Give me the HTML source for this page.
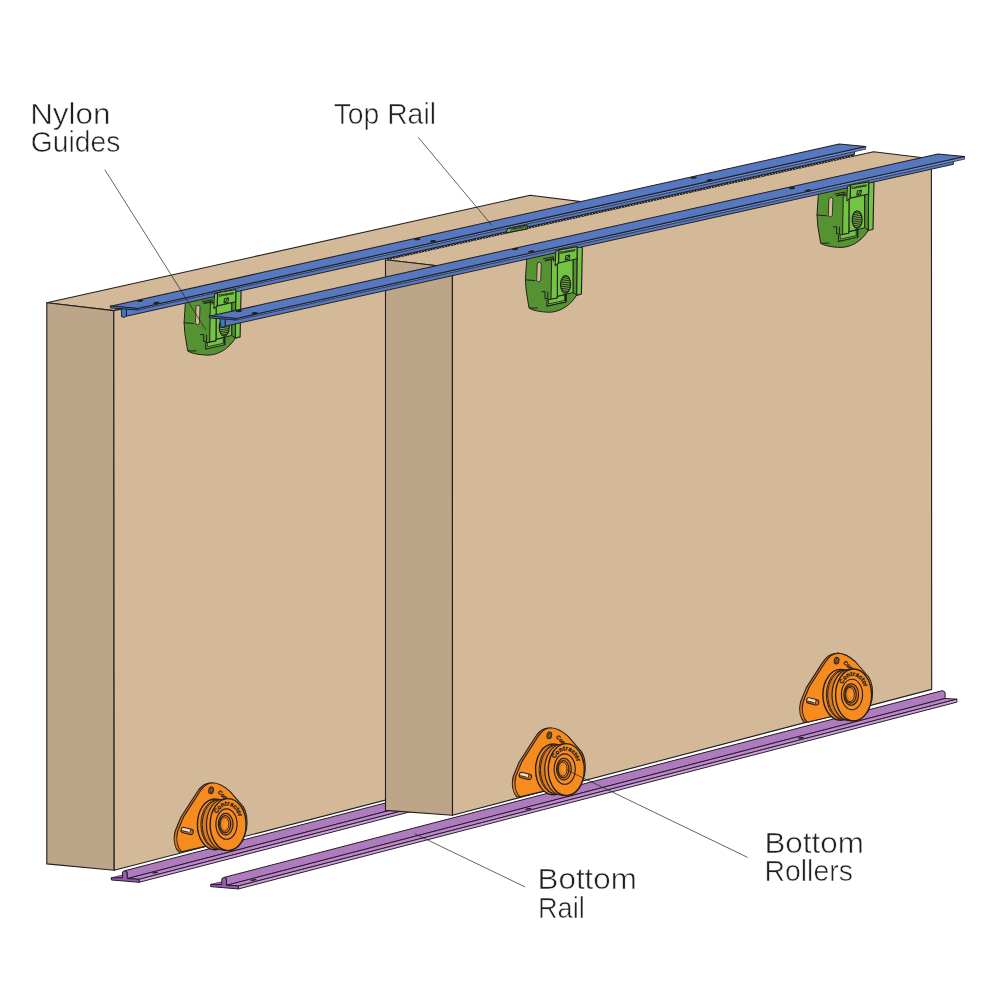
<!DOCTYPE html>
<html lang="en">
<head>
<meta charset="utf-8">
<title>Sliding door gear - component diagram</title>
<style>
html,body{margin:0;padding:0;background:#fff;}
body{width:1000px;height:1000px;overflow:hidden;position:relative;}
svg{display:block;position:absolute;left:0;top:0;}
svg text{font-family:"Liberation Sans",sans-serif;}
#labels{will-change:transform;opacity:0.999;}
.lbl text{font-size:29px;fill:#231F20;stroke:#fff;stroke-width:0.55px;paint-order:fill stroke;}
</style>
</head>
<body>
<svg id="art" width="1000" height="1000" viewBox="0 0 1000 1000">
<defs>
<radialGradient id="hubg" cx="0.62" cy="0.5" r="0.62">
<stop offset="0" stop-color="#F99B30"/>
<stop offset="0.55" stop-color="#F28A1E"/>
<stop offset="1" stop-color="#C96A14"/>
</radialGradient>
</defs>
<rect width="1000" height="1000" fill="#fff"/>
<g>
<polygon points="46.8,302.8 530.3,195.2 597,203.6 113.8,310.6" fill="#D4B999" stroke="#231F20" stroke-width="1.12" stroke-linejoin="round" />
<polygon points="46.8,302.8 113.8,310.6 114.2,870.2 46.8,863.9" fill="#BDA58A" stroke="#231F20" stroke-width="1.12" stroke-linejoin="round" />
<polygon points="113.8,310.6 597,203.6 597,745.4 114.2,870.2" fill="#D4B999" stroke="#231F20" stroke-width="1.12" stroke-linejoin="round" />
<polygon points="111.25,877.75 122.45,877.95 130.45,875.95 130.45,873.15" fill="#9C68B0" stroke="#231F20" stroke-width="0.62" stroke-linejoin="round" />
<polygon points="124.75,870.75 860,679.59 862.5,681.28 862.5,687.48 127.25,878.65 126.95,871.85" fill="#AD7BBE" stroke="#231F20" stroke-width="1" stroke-linejoin="round" />
<polygon points="127.25,878.65 139.05,879.3 874.3,688.13 862.5,687.48" fill="#BF85D1" stroke="#231F20" stroke-width="0.98" stroke-linejoin="round" />
<polygon points="139.05,879.3 139.05,882.3 874.3,691.13 874.3,688.13" fill="#CFA2DE" stroke="#231F20" stroke-width="0.98" stroke-linejoin="round" />
<polygon points="111.25,877.75 122.45,877.95 122.55,871.85 124.75,870.75 126.95,871.85 127.25,878.65 139.05,879.3 139.05,882.3 111.35,879.95" fill="#9A58B8" stroke="#231F20" stroke-width="1" stroke-linejoin="round" />
<path d="M179 852.2 C174.7 848 173 840 175 831.5 L181 817 L197 792.2 C201 786 205 783.3 209.7 783.1 C215.7 783.3 221 786 227 791.5 L240.5 807 C244.3 813 244.9 822 243.7 830 L239.5 842 L218.5 843 Z" fill="#D8771C" stroke="#231F20" stroke-width="1.1" stroke-linejoin="round"/>
<path d="M181.7 851.8 C177.4 847.6 175.7 839.6 177.7 831.1 L183.7 816.6 L199.7 791.8 C203.7 785.6 207.7 782.9 212.4 782.7 C218.4 782.9 223.7 785.6 229.7 791.1 L243.2 806.6 C247 812.6 247.6 821.6 246.4 829.6 L242.2 841.6 L221.2 842.6 Z" fill="#F68B1F" stroke="#231F20" stroke-width="1.1" stroke-linejoin="round"/>
<ellipse cx="211.1" cy="790.3" rx="2.3" ry="3.4" fill="#D8771C" stroke="#231F20" stroke-width="1" transform="rotate(12 211.1 790.3)"/>
<ellipse cx="211.7" cy="790.3" rx="1.5" ry="2.6" fill="#8a5a2a" stroke="#231F20" stroke-width="0.62" transform="rotate(12 211.7 790.3)"/>
<g transform="rotate(14 187.2 831)">
<rect x="181" y="828.3" width="12.4" height="5.4" rx="2.5" ry="2.5" fill="#D8771C" stroke="#231F20" stroke-width="1.05"/>
<rect x="181.7" y="828.9" width="8.2" height="2.7" rx="1.2" ry="1.2" fill="#EADFD3"/>
<path d="M190.4 828.7v4.2" stroke="#231F20" stroke-width="0.7" fill="none"/>
<path d="M182.4 831.9h6.2" stroke="#231F20" stroke-width="0.8" fill="none"/>
</g>
<text x="217.3" y="792.6" font-size="5.6" font-weight="bold" fill="#231F20" stroke="#231F20" stroke-width="0.3" transform="rotate(44 217.3 792.6)">Cont</text>
<ellipse cx="215" cy="824.4" rx="17.6" ry="25.4" fill="#F68B1F" stroke="#231F20" stroke-width="1.38"/>
<ellipse cx="217.7" cy="824.4" rx="16.8" ry="24.8" fill="#F68B1F" stroke="#231F20" stroke-width="1"/>
<ellipse cx="219" cy="824.5" rx="16.8" ry="24.6" fill="#D8771C" stroke="#231F20" stroke-width="1"/>
<ellipse cx="224.1" cy="824.6" rx="17.6" ry="25.6" fill="#F68B1F" stroke="#231F20" stroke-width="1.12"/>
<ellipse cx="228.1" cy="824.6" rx="18" ry="26" fill="#F68B1F" stroke="#231F20" stroke-width="1.38"/>
<ellipse cx="226.5" cy="824.1" rx="10.6" ry="15.2" fill="#F68B1F" stroke="#231F20" stroke-width="1.12"/>
<ellipse cx="225.7" cy="824.1" rx="7.4" ry="10.8" fill="#D8771C" stroke="#231F20" stroke-width="1.12"/>
<ellipse cx="225.1" cy="824.1" rx="5.6" ry="8.6" fill="#F68B1F" stroke="#231F20" stroke-width="1.12"/>
<ellipse cx="224.5" cy="824.1" rx="4.4" ry="7.2" fill="url(#hubg)" stroke="#231F20" stroke-width="0.88"/>
<path id="rp1" d="M217.02 813.86A12.4 19.2 0 0 1 239.69 823.93" fill="none"/>
<text font-size="6.2" font-weight="bold" fill="#231F20" stroke="#231F20" stroke-width="0.32"><textPath href="#rp1" textLength="31" lengthAdjust="spacingAndGlyphs">Contractor</textPath></text>
<path d="M185.3 297.7 L185.3 304.1 L184.1 322.5 L184.9 333.7 L187.7 350.9 C190.1 352.9 198.5 354.98 208.1 355.14 C216.9 354.98 228.1 350.1 235.3 338.1 L235.3 284.9 Z" fill="#559332" stroke="#231F20" stroke-width="1" stroke-linejoin="round"/>
<polygon points="235.7,287.3 241.06,290.5 240.1,336.9 235.3,338.26" fill="#73C443" stroke="#231F20" stroke-width="1.15" stroke-linejoin="round" />
<polygon points="231.7,301.7 235.7,300.9 235.3,337.86 231.7,335.46" fill="#559332" stroke="#231F20" stroke-width="1" stroke-linejoin="round" />
<polygon points="216.1,305.7 231.7,301.7 231.7,335.46 216.1,339.46" fill="#73C443" stroke="#231F20" stroke-width="1" stroke-linejoin="round" />
<polygon points="210.34,301.7 216.1,304.1 215.94,341.06 209.7,342.34" fill="#73C443" stroke="#231F20" stroke-width="1" stroke-linejoin="round" />
<polygon points="205.7,342.9 215.94,340.9 215.94,339.46 224.9,337.3 224.9,344.74 205.7,349.06" fill="#73C443" stroke="#231F20" stroke-width="1.15" stroke-linejoin="round" />
<polyline points="207.3,343.46 207.3,346.9 223.3,343.3 223.3,338.5" fill="none" stroke="#231F20" stroke-width="0.86" stroke-linecap="round" stroke-linejoin="round" />
<ellipse cx="224.26" cy="327.3" rx="5" ry="8.8" fill="#73C443" stroke="#231F20" stroke-width="1.15"/>
<path d="M221.55 320.5L226.97 319.3M220.38 322.35L228.14 321.15M219.72 324.2L228.8 323M219.37 326.05L229.15 324.85M219.26 327.9L229.26 326.7M219.37 329.75L229.15 328.55M219.72 331.6L228.8 330.4M220.38 333.45L228.14 332.25M221.55 335.3L226.97 334.1" stroke="#231F20" stroke-width="0.95" fill="none"/>
<line x1="224.26" y1="336.1" x2="224.26" y2="344.26" stroke="#231F20" stroke-width="1.15" stroke-linecap="round"/>
<rect x="195.7" y="305.2" width="4" height="19.4" rx="2" ry="2" fill="#D4B999" stroke="#231F20" stroke-width="0.8" transform="rotate(2 197.7 314.9)"/>
<line x1="184.1" y1="322.74" x2="193.54" y2="323.46" stroke="#231F20" stroke-width="1" stroke-linecap="round"/>
<line x1="188.1" y1="350.9" x2="196.1" y2="350.9" stroke="#231F20" stroke-width="1" stroke-linecap="round"/>
<polyline points="200.5,334.66 203.7,334.34 203.7,341.7 206.5,341.3 206.5,334.9" fill="none" stroke="#231F20" stroke-width="1" stroke-linecap="round" stroke-linejoin="round" />
<polyline points="202.1,301.7 212.1,299.7 212.1,304.1" fill="none" stroke="#231F20" stroke-width="1" stroke-linecap="round" stroke-linejoin="round" />
<polyline points="204.1,303.3 210.5,302.1" fill="none" stroke="#231F20" stroke-width="1.57" stroke-linecap="round" stroke-linejoin="round" />
<polygon points="385.5,259.7 873.6,151.7 931.4,158.7 452.4,267.5" fill="#D4B999" stroke="#231F20" stroke-width="1.12" stroke-linejoin="round" />
<polygon points="385.5,259.7 452.4,267.5 452.5,815.2 385.5,810.4" fill="#BDA58A" stroke="#231F20" stroke-width="1.12" stroke-linejoin="round" />
<polygon points="452.4,267.5 931.4,158.7 931.7,689.4 452.5,815.2" fill="#D4B999" stroke="#231F20" stroke-width="1.12" stroke-linejoin="round" />
<polygon points="386,258.48 854.5,154.3 853.3,156 386,260.18" fill="#231F20" stroke="#231F20" stroke-width="0.38" stroke-linejoin="round" />
<path d="M386 258.83l1.1 1.4M388.9 258.18l1.1 1.4M391.8 257.54l1.1 1.4M394.7 256.89l1.1 1.4M397.6 256.25l1.1 1.4M400.5 255.6l1.1 1.4M403.4 254.96l1.1 1.4M406.3 254.31l1.1 1.4M409.2 253.67l1.1 1.4M412.1 253.02l1.1 1.4M415 252.38l1.1 1.4M417.9 251.73l1.1 1.4M420.8 251.09l1.1 1.4M423.7 250.44l1.1 1.4M426.6 249.8l1.1 1.4M429.5 249.15l1.1 1.4M432.4 248.51l1.1 1.4M435.3 247.86l1.1 1.4M438.2 247.22l1.1 1.4M441.1 246.57l1.1 1.4M444 245.93l1.1 1.4M446.9 245.28l1.1 1.4M449.8 244.64l1.1 1.4M452.7 243.99l1.1 1.4M455.6 243.35l1.1 1.4M458.5 242.7l1.1 1.4M461.4 242.06l1.1 1.4M464.3 241.41l1.1 1.4M467.2 240.77l1.1 1.4M470.1 240.13l1.1 1.4M473 239.48l1.1 1.4M475.9 238.84l1.1 1.4M478.8 238.19l1.1 1.4M481.7 237.55l1.1 1.4M484.6 236.9l1.1 1.4M487.5 236.26l1.1 1.4M490.4 235.61l1.1 1.4M493.3 234.97l1.1 1.4M496.2 234.32l1.1 1.4M499.1 233.68l1.1 1.4M502 233.03l1.1 1.4M504.9 232.39l1.1 1.4M507.8 231.74l1.1 1.4M510.7 231.1l1.1 1.4M513.6 230.45l1.1 1.4M516.5 229.81l1.1 1.4M519.4 229.16l1.1 1.4M522.3 228.52l1.1 1.4M525.2 227.87l1.1 1.4M528.1 227.23l1.1 1.4M531 226.58l1.1 1.4M533.9 225.94l1.1 1.4M536.8 225.29l1.1 1.4M539.7 224.65l1.1 1.4M542.6 224l1.1 1.4M545.5 223.36l1.1 1.4M548.4 222.71l1.1 1.4M551.3 222.07l1.1 1.4M554.2 221.42l1.1 1.4M557.1 220.78l1.1 1.4M560 220.13l1.1 1.4M562.9 219.49l1.1 1.4M565.8 218.85l1.1 1.4M568.7 218.2l1.1 1.4M571.6 217.56l1.1 1.4M574.5 216.91l1.1 1.4M577.4 216.27l1.1 1.4M580.3 215.62l1.1 1.4M583.2 214.98l1.1 1.4M586.1 214.33l1.1 1.4M589 213.69l1.1 1.4M591.9 213.04l1.1 1.4M594.8 212.4l1.1 1.4M597.7 211.75l1.1 1.4M600.6 211.11l1.1 1.4M603.5 210.46l1.1 1.4M606.4 209.82l1.1 1.4M609.3 209.17l1.1 1.4M612.2 208.53l1.1 1.4M615.1 207.88l1.1 1.4M618 207.24l1.1 1.4M620.9 206.59l1.1 1.4M623.8 205.95l1.1 1.4M626.7 205.3l1.1 1.4M629.6 204.66l1.1 1.4M632.5 204.01l1.1 1.4M635.4 203.37l1.1 1.4M638.3 202.72l1.1 1.4M641.2 202.08l1.1 1.4M644.1 201.43l1.1 1.4M647 200.79l1.1 1.4M649.9 200.14l1.1 1.4M652.8 199.5l1.1 1.4M655.7 198.86l1.1 1.4M658.6 198.21l1.1 1.4M661.5 197.57l1.1 1.4M664.4 196.92l1.1 1.4M667.3 196.28l1.1 1.4M670.2 195.63l1.1 1.4M673.1 194.99l1.1 1.4M676 194.34l1.1 1.4M678.9 193.7l1.1 1.4M681.8 193.05l1.1 1.4M684.7 192.41l1.1 1.4M687.6 191.76l1.1 1.4M690.5 191.12l1.1 1.4M693.4 190.47l1.1 1.4M696.3 189.83l1.1 1.4M699.2 189.18l1.1 1.4M702.1 188.54l1.1 1.4M705 187.89l1.1 1.4M707.9 187.25l1.1 1.4M710.8 186.6l1.1 1.4M713.7 185.96l1.1 1.4M716.6 185.31l1.1 1.4M719.5 184.67l1.1 1.4M722.4 184.02l1.1 1.4M725.3 183.38l1.1 1.4M728.2 182.73l1.1 1.4M731.1 182.09l1.1 1.4M734 181.44l1.1 1.4M736.9 180.8l1.1 1.4M739.8 180.15l1.1 1.4M742.7 179.51l1.1 1.4M745.6 178.86l1.1 1.4M748.5 178.22l1.1 1.4M751.4 177.58l1.1 1.4M754.3 176.93l1.1 1.4M757.2 176.29l1.1 1.4M760.1 175.64l1.1 1.4M763 175l1.1 1.4M765.9 174.35l1.1 1.4M768.8 173.71l1.1 1.4M771.7 173.06l1.1 1.4M774.6 172.42l1.1 1.4M777.5 171.77l1.1 1.4M780.4 171.13l1.1 1.4M783.3 170.48l1.1 1.4M786.2 169.84l1.1 1.4M789.1 169.19l1.1 1.4M792 168.55l1.1 1.4M794.9 167.9l1.1 1.4M797.8 167.26l1.1 1.4M800.7 166.61l1.1 1.4M803.6 165.97l1.1 1.4M806.5 165.32l1.1 1.4M809.4 164.68l1.1 1.4M812.3 164.03l1.1 1.4M815.2 163.39l1.1 1.4M818.1 162.74l1.1 1.4M821 162.1l1.1 1.4M823.9 161.45l1.1 1.4M826.8 160.81l1.1 1.4M829.7 160.16l1.1 1.4M832.6 159.52l1.1 1.4M835.5 158.87l1.1 1.4M838.4 158.23l1.1 1.4M841.3 157.59l1.1 1.4M844.2 156.94l1.1 1.4M847.1 156.3l1.1 1.4M850 155.65l1.1 1.4" stroke="#c4c4cc" stroke-width="0.9" fill="none"/>
<polygon points="126.4,304.2 126.4,316.2 854.5,154.3 854.4,147.2" fill="#5578C1" stroke="#231F20" stroke-width="0.98" stroke-linejoin="round" />
<polygon points="137.5,308.5 865.8,146.5 865.6,149.2 137.3,310.1" fill="#6D90D2" stroke="#231F20" stroke-width="0.72" stroke-linejoin="round" />
<polygon points="110.4,306.3 137.5,308.5 865.8,146.5 839.2,144" fill="#5578C1" stroke="#231F20" stroke-width="1.07" stroke-linejoin="round" />
<polygon points="121.2,307.9 126.4,308.6 126.4,316.2 124.2,317.3 121.6,316.8" fill="#3E74CF" stroke="#231F20" stroke-width="1" stroke-linejoin="round" />
<polygon points="110.4,305.8 137.5,308.5 137.3,310 110.6,307.9" fill="#3E74CF" stroke="#231F20" stroke-width="1" stroke-linejoin="round" />
<polygon points="505.6,233 507.8,228.6 527.2,225 527.2,228.9" fill="#73C443" stroke="#231F20" stroke-width="1.12" stroke-linejoin="round" />
<polyline points="510.4,231.4 511.6,229.2 525.6,226.6 525.6,228.2" fill="none" stroke="#231F20" stroke-width="0.88" stroke-linecap="round" stroke-linejoin="round" />
<text x="512.4" y="230.9" font-size="2.6" font-weight="bold" fill="#231F20" transform="rotate(-10.5 512.4 230.9)" textLength="12" lengthAdjust="spacingAndGlyphs">Contractor</text>
<ellipse cx="140.2" cy="300.8" rx="3.1" ry="1.1" fill="#231F20" transform="rotate(-6 140.2 300.8)"/>
<ellipse cx="156.4" cy="302.9" rx="3.1" ry="1.1" fill="#231F20" transform="rotate(-6 156.4 302.9)"/>
<ellipse cx="417.2" cy="239.2" rx="3.1" ry="1.1" fill="#231F20" transform="rotate(-6 417.2 239.2)"/>
<ellipse cx="433" cy="241.2" rx="3.1" ry="1.1" fill="#231F20" transform="rotate(-6 433 241.2)"/>
<ellipse cx="693.8" cy="177.6" rx="3.1" ry="1.1" fill="#231F20" transform="rotate(-6 693.8 177.6)"/>
<ellipse cx="709.8" cy="180.1" rx="3.1" ry="1.1" fill="#231F20" transform="rotate(-6 709.8 180.1)"/>
<polygon points="214.5,293.86 217.54,293.14 217.3,305.86 213.86,308.5" fill="#73C443" stroke="#231F20" stroke-width="1.01" stroke-linejoin="round" />
<polygon points="217.7,292.74 235.86,289.54 235.7,301.7 217.3,305.86" fill="#73C443" stroke="#231F20" stroke-width="1.15" stroke-linejoin="round" />
<text x="218.9" y="296.74" font-size="3.3" font-weight="bold" fill="#231F20" stroke="#231F20" stroke-width="0.26" transform="rotate(-10.5 218.9 296.74)" textLength="15.5" lengthAdjust="spacingAndGlyphs">Contractor</text>
<polygon points="224.5,298.66 228.5,297.86 227.94,302.1 223.94,302.9" fill="none" stroke="#231F20" stroke-width="1" stroke-linejoin="round" />
<line x1="224.74" y1="302.5" x2="227.94" y2="298.34" stroke="#231F20" stroke-width="1" stroke-linecap="round"/>
<polygon points="210.6,884.4 221.8,884.6 229.8,882.6 229.8,879.8" fill="#9C68B0" stroke="#231F20" stroke-width="0.62" stroke-linejoin="round" />
<polygon points="224.1,877.4 942.6,690.59 945.1,692.29 945.1,698.49 226.6,885.3 226.3,878.5" fill="#AD7BBE" stroke="#231F20" stroke-width="1" stroke-linejoin="round" />
<polygon points="226.6,885.3 238.4,885.95 956.9,699.14 945.1,698.49" fill="#BF85D1" stroke="#231F20" stroke-width="0.98" stroke-linejoin="round" />
<polygon points="238.4,885.95 238.4,888.95 956.9,702.14 956.9,699.14" fill="#CFA2DE" stroke="#231F20" stroke-width="0.98" stroke-linejoin="round" />
<polygon points="210.6,884.4 221.8,884.6 221.9,878.5 224.1,877.4 226.3,878.5 226.6,885.3 238.4,885.95 238.4,888.95 210.7,886.6" fill="#9A58B8" stroke="#231F20" stroke-width="1" stroke-linejoin="round" />
<path d="M517.2 797.2 C512.9 793 511.2 785 513.2 776.5 L519.2 762 L535.2 737.2 C539.2 731 543.2 728.3 547.9 728.1 C553.9 728.3 559.2 731 565.2 736.5 L578.7 752 C582.5 758 583.1 767 581.9 775 L577.7 787 L556.7 788 Z" fill="#D8771C" stroke="#231F20" stroke-width="1.1" stroke-linejoin="round"/>
<path d="M519.9 796.8 C515.6 792.6 513.9 784.6 515.9 776.1 L521.9 761.6 L537.9 736.8 C541.9 730.6 545.9 727.9 550.6 727.7 C556.6 727.9 561.9 730.6 567.9 736.1 L581.4 751.6 C585.2 757.6 585.8 766.6 584.6 774.6 L580.4 786.6 L559.4 787.6 Z" fill="#F68B1F" stroke="#231F20" stroke-width="1.1" stroke-linejoin="round"/>
<ellipse cx="549.3" cy="735.3" rx="2.3" ry="3.4" fill="#D8771C" stroke="#231F20" stroke-width="1" transform="rotate(12 549.3 735.3)"/>
<ellipse cx="549.9" cy="735.3" rx="1.5" ry="2.6" fill="#8a5a2a" stroke="#231F20" stroke-width="0.62" transform="rotate(12 549.9 735.3)"/>
<g transform="rotate(14 525.4 776)">
<rect x="519.2" y="773.3" width="12.4" height="5.4" rx="2.5" ry="2.5" fill="#D8771C" stroke="#231F20" stroke-width="1.05"/>
<rect x="519.9" y="773.9" width="8.2" height="2.7" rx="1.2" ry="1.2" fill="#EADFD3"/>
<path d="M528.6 773.7v4.2" stroke="#231F20" stroke-width="0.7" fill="none"/>
<path d="M520.6 776.9h6.2" stroke="#231F20" stroke-width="0.8" fill="none"/>
</g>
<text x="555.5" y="737.6" font-size="5.6" font-weight="bold" fill="#231F20" stroke="#231F20" stroke-width="0.3" transform="rotate(44 555.5 737.6)">Cont</text>
<ellipse cx="553.2" cy="769.4" rx="17.6" ry="25.4" fill="#F68B1F" stroke="#231F20" stroke-width="1.38"/>
<ellipse cx="555.9" cy="769.4" rx="16.8" ry="24.8" fill="#F68B1F" stroke="#231F20" stroke-width="1"/>
<ellipse cx="557.2" cy="769.5" rx="16.8" ry="24.6" fill="#D8771C" stroke="#231F20" stroke-width="1"/>
<ellipse cx="562.3" cy="769.6" rx="17.6" ry="25.6" fill="#F68B1F" stroke="#231F20" stroke-width="1.12"/>
<ellipse cx="566.3" cy="769.6" rx="18" ry="26" fill="#F68B1F" stroke="#231F20" stroke-width="1.38"/>
<ellipse cx="564.7" cy="769.1" rx="10.6" ry="15.2" fill="#F68B1F" stroke="#231F20" stroke-width="1.12"/>
<ellipse cx="563.9" cy="769.1" rx="7.4" ry="10.8" fill="#D8771C" stroke="#231F20" stroke-width="1.12"/>
<ellipse cx="563.3" cy="769.1" rx="5.6" ry="8.6" fill="#F68B1F" stroke="#231F20" stroke-width="1.12"/>
<ellipse cx="562.7" cy="769.1" rx="4.4" ry="7.2" fill="url(#hubg)" stroke="#231F20" stroke-width="0.88"/>
<path id="rp2" d="M555.22 758.86A12.4 19.2 0 0 1 577.89 768.93" fill="none"/>
<text font-size="6.2" font-weight="bold" fill="#231F20" stroke="#231F20" stroke-width="0.32"><textPath href="#rp2" textLength="31" lengthAdjust="spacingAndGlyphs">Contractor</textPath></text>
<path d="M804.5 722.6 C800.2 718.4 798.5 710.4 800.5 701.9 L806.5 687.4 L822.5 662.6 C826.5 656.4 830.5 653.7 835.2 653.5 C841.2 653.7 846.5 656.4 852.5 661.9 L866 677.4 C869.8 683.4 870.4 692.4 869.2 700.4 L865 712.4 L844 713.4 Z" fill="#D8771C" stroke="#231F20" stroke-width="1.1" stroke-linejoin="round"/>
<path d="M807.2 722.2 C802.9 718 801.2 710 803.2 701.5 L809.2 687 L825.2 662.2 C829.2 656 833.2 653.3 837.9 653.1 C843.9 653.3 849.2 656 855.2 661.5 L868.7 677 C872.5 683 873.1 692 871.9 700 L867.7 712 L846.7 713 Z" fill="#F68B1F" stroke="#231F20" stroke-width="1.1" stroke-linejoin="round"/>
<ellipse cx="836.6" cy="660.7" rx="2.3" ry="3.4" fill="#D8771C" stroke="#231F20" stroke-width="1" transform="rotate(12 836.6 660.7)"/>
<ellipse cx="837.2" cy="660.7" rx="1.5" ry="2.6" fill="#8a5a2a" stroke="#231F20" stroke-width="0.62" transform="rotate(12 837.2 660.7)"/>
<g transform="rotate(14 812.7 701.4)">
<rect x="806.5" y="698.7" width="12.4" height="5.4" rx="2.5" ry="2.5" fill="#D8771C" stroke="#231F20" stroke-width="1.05"/>
<rect x="807.2" y="699.3" width="8.2" height="2.7" rx="1.2" ry="1.2" fill="#EADFD3"/>
<path d="M815.9 699.1v4.2" stroke="#231F20" stroke-width="0.7" fill="none"/>
<path d="M807.9 702.3h6.2" stroke="#231F20" stroke-width="0.8" fill="none"/>
</g>
<text x="842.8" y="663" font-size="5.6" font-weight="bold" fill="#231F20" stroke="#231F20" stroke-width="0.3" transform="rotate(44 842.8 663)">Cont</text>
<ellipse cx="840.5" cy="694.8" rx="17.6" ry="25.4" fill="#F68B1F" stroke="#231F20" stroke-width="1.38"/>
<ellipse cx="843.2" cy="694.8" rx="16.8" ry="24.8" fill="#F68B1F" stroke="#231F20" stroke-width="1"/>
<ellipse cx="844.5" cy="694.9" rx="16.8" ry="24.6" fill="#D8771C" stroke="#231F20" stroke-width="1"/>
<ellipse cx="849.6" cy="695" rx="17.6" ry="25.6" fill="#F68B1F" stroke="#231F20" stroke-width="1.12"/>
<ellipse cx="853.6" cy="695" rx="18" ry="26" fill="#F68B1F" stroke="#231F20" stroke-width="1.38"/>
<ellipse cx="852" cy="694.5" rx="10.6" ry="15.2" fill="#F68B1F" stroke="#231F20" stroke-width="1.12"/>
<ellipse cx="851.2" cy="694.5" rx="7.4" ry="10.8" fill="#D8771C" stroke="#231F20" stroke-width="1.12"/>
<ellipse cx="850.6" cy="694.5" rx="5.6" ry="8.6" fill="#F68B1F" stroke="#231F20" stroke-width="1.12"/>
<ellipse cx="850" cy="694.5" rx="4.4" ry="7.2" fill="url(#hubg)" stroke="#231F20" stroke-width="0.88"/>
<path id="rp3" d="M842.52 684.26A12.4 19.2 0 0 1 865.19 694.33" fill="none"/>
<text font-size="6.2" font-weight="bold" fill="#231F20" stroke="#231F20" stroke-width="0.32"><textPath href="#rp3" textLength="31" lengthAdjust="spacingAndGlyphs">Contractor</textPath></text>
<path d="M526.6 254.8 L526.6 261.2 L525.4 279.6 L526.2 290.8 L529 308 C531.4 310 539.8 312.08 549.4 312.24 C558.2 312.08 569.4 307.2 576.6 295.2 L576.6 242 Z" fill="#559332" stroke="#231F20" stroke-width="1" stroke-linejoin="round"/>
<polygon points="577,244.4 582.36,247.6 581.4,294 576.6,295.36" fill="#73C443" stroke="#231F20" stroke-width="1.15" stroke-linejoin="round" />
<polygon points="573,258.8 577,258 576.6,294.96 573,292.56" fill="#559332" stroke="#231F20" stroke-width="1" stroke-linejoin="round" />
<polygon points="557.4,262.8 573,258.8 573,292.56 557.4,296.56" fill="#73C443" stroke="#231F20" stroke-width="1" stroke-linejoin="round" />
<polygon points="551.64,258.8 557.4,261.2 557.24,298.16 551,299.44" fill="#73C443" stroke="#231F20" stroke-width="1" stroke-linejoin="round" />
<polygon points="547,300 557.24,298 557.24,296.56 566.2,294.4 566.2,301.84 547,306.16" fill="#73C443" stroke="#231F20" stroke-width="1.15" stroke-linejoin="round" />
<polyline points="548.6,300.56 548.6,304 564.6,300.4 564.6,295.6" fill="none" stroke="#231F20" stroke-width="0.86" stroke-linecap="round" stroke-linejoin="round" />
<ellipse cx="565.56" cy="284.4" rx="5" ry="8.8" fill="#73C443" stroke="#231F20" stroke-width="1.15"/>
<path d="M562.85 277.6L568.27 276.4M561.68 279.45L569.44 278.25M561.02 281.3L570.1 280.1M560.67 283.15L570.45 281.95M560.56 285L570.56 283.8M560.67 286.85L570.45 285.65M561.02 288.7L570.1 287.5M561.68 290.55L569.44 289.35M562.85 292.4L568.27 291.2" stroke="#231F20" stroke-width="0.95" fill="none"/>
<line x1="565.56" y1="293.2" x2="565.56" y2="301.36" stroke="#231F20" stroke-width="1.15" stroke-linecap="round"/>
<rect x="537" y="262.3" width="4" height="19.4" rx="2" ry="2" fill="#D4B999" stroke="#231F20" stroke-width="0.8" transform="rotate(2 539 272)"/>
<line x1="525.4" y1="279.84" x2="534.84" y2="280.56" stroke="#231F20" stroke-width="1" stroke-linecap="round"/>
<line x1="529.4" y1="308" x2="537.4" y2="308" stroke="#231F20" stroke-width="1" stroke-linecap="round"/>
<polyline points="541.8,291.76 545,291.44 545,298.8 547.8,298.4 547.8,292" fill="none" stroke="#231F20" stroke-width="1" stroke-linecap="round" stroke-linejoin="round" />
<polyline points="543.4,258.8 553.4,256.8 553.4,261.2" fill="none" stroke="#231F20" stroke-width="1" stroke-linecap="round" stroke-linejoin="round" />
<polyline points="545.4,260.4 551.8,259.2" fill="none" stroke="#231F20" stroke-width="1.57" stroke-linecap="round" stroke-linejoin="round" />
<path d="M818.2 190 L818.2 196.4 L817 214.8 L817.8 226 L820.6 243.2 C823 245.2 831.4 247.28 841 247.44 C849.8 247.28 861 242.4 868.2 230.4 L868.2 177.2 Z" fill="#559332" stroke="#231F20" stroke-width="1" stroke-linejoin="round"/>
<polygon points="868.6,179.6 873.96,182.8 873,229.2 868.2,230.56" fill="#73C443" stroke="#231F20" stroke-width="1.15" stroke-linejoin="round" />
<polygon points="864.6,194 868.6,193.2 868.2,230.16 864.6,227.76" fill="#559332" stroke="#231F20" stroke-width="1" stroke-linejoin="round" />
<polygon points="849,198 864.6,194 864.6,227.76 849,231.76" fill="#73C443" stroke="#231F20" stroke-width="1" stroke-linejoin="round" />
<polygon points="843.24,194 849,196.4 848.84,233.36 842.6,234.64" fill="#73C443" stroke="#231F20" stroke-width="1" stroke-linejoin="round" />
<polygon points="838.6,235.2 848.84,233.2 848.84,231.76 857.8,229.6 857.8,237.04 838.6,241.36" fill="#73C443" stroke="#231F20" stroke-width="1.15" stroke-linejoin="round" />
<polyline points="840.2,235.76 840.2,239.2 856.2,235.6 856.2,230.8" fill="none" stroke="#231F20" stroke-width="0.86" stroke-linecap="round" stroke-linejoin="round" />
<ellipse cx="857.16" cy="219.6" rx="5" ry="8.8" fill="#73C443" stroke="#231F20" stroke-width="1.15"/>
<path d="M854.45 212.8L859.87 211.6M853.28 214.65L861.04 213.45M852.62 216.5L861.7 215.3M852.27 218.35L862.05 217.15M852.16 220.2L862.16 219M852.27 222.05L862.05 220.85M852.62 223.9L861.7 222.7M853.28 225.75L861.04 224.55M854.45 227.6L859.87 226.4" stroke="#231F20" stroke-width="0.95" fill="none"/>
<line x1="857.16" y1="228.4" x2="857.16" y2="236.56" stroke="#231F20" stroke-width="1.15" stroke-linecap="round"/>
<rect x="828.6" y="197.5" width="4" height="19.4" rx="2" ry="2" fill="#D4B999" stroke="#231F20" stroke-width="0.8" transform="rotate(2 830.6 207.2)"/>
<line x1="817" y1="215.04" x2="826.44" y2="215.76" stroke="#231F20" stroke-width="1" stroke-linecap="round"/>
<line x1="821" y1="243.2" x2="829" y2="243.2" stroke="#231F20" stroke-width="1" stroke-linecap="round"/>
<polyline points="833.4,226.96 836.6,226.64 836.6,234 839.4,233.6 839.4,227.2" fill="none" stroke="#231F20" stroke-width="1" stroke-linecap="round" stroke-linejoin="round" />
<polyline points="835,194 845,192 845,196.4" fill="none" stroke="#231F20" stroke-width="1" stroke-linecap="round" stroke-linejoin="round" />
<polyline points="837,195.6 843.4,194.4" fill="none" stroke="#231F20" stroke-width="1.57" stroke-linecap="round" stroke-linejoin="round" />
<polygon points="225.2,314.2 225.2,326.2 953.3,164.3 953.2,157.2" fill="#5578C1" stroke="#231F20" stroke-width="0.98" stroke-linejoin="round" />
<polygon points="236.3,318.5 964.6,156.5 964.4,159.2 236.1,320.1" fill="#6D90D2" stroke="#231F20" stroke-width="0.72" stroke-linejoin="round" />
<polygon points="209.2,316.3 236.3,318.5 964.6,156.5 938,154" fill="#5578C1" stroke="#231F20" stroke-width="1.07" stroke-linejoin="round" />
<polygon points="220,317.9 225.2,318.6 225.2,326.2 223,327.3 220.4,326.8" fill="#3E74CF" stroke="#231F20" stroke-width="1" stroke-linejoin="round" />
<polygon points="209.2,315.8 236.3,318.5 236.1,320 209.4,317.9" fill="#3E74CF" stroke="#231F20" stroke-width="1" stroke-linejoin="round" />
<polygon points="555.8,250.96 558.84,250.24 558.6,262.96 555.16,265.6" fill="#73C443" stroke="#231F20" stroke-width="1.01" stroke-linejoin="round" />
<polygon points="559,249.84 577.16,246.64 577,258.8 558.6,262.96" fill="#73C443" stroke="#231F20" stroke-width="1.15" stroke-linejoin="round" />
<text x="560.2" y="253.84" font-size="3.3" font-weight="bold" fill="#231F20" stroke="#231F20" stroke-width="0.26" transform="rotate(-10.5 560.2 253.84)" textLength="15.5" lengthAdjust="spacingAndGlyphs">Contractor</text>
<polygon points="565.8,255.76 569.8,254.96 569.24,259.2 565.24,260" fill="none" stroke="#231F20" stroke-width="1" stroke-linejoin="round" />
<line x1="566.04" y1="259.6" x2="569.24" y2="255.44" stroke="#231F20" stroke-width="1" stroke-linecap="round"/>
<polygon points="847.4,186.16 850.44,185.44 850.2,198.16 846.76,200.8" fill="#73C443" stroke="#231F20" stroke-width="1.01" stroke-linejoin="round" />
<polygon points="850.6,185.04 868.76,181.84 868.6,194 850.2,198.16" fill="#73C443" stroke="#231F20" stroke-width="1.15" stroke-linejoin="round" />
<text x="851.8" y="189.04" font-size="3.3" font-weight="bold" fill="#231F20" stroke="#231F20" stroke-width="0.26" transform="rotate(-10.5 851.8 189.04)" textLength="15.5" lengthAdjust="spacingAndGlyphs">Contractor</text>
<polygon points="857.4,190.96 861.4,190.16 860.84,194.4 856.84,195.2" fill="none" stroke="#231F20" stroke-width="1" stroke-linejoin="round" />
<line x1="857.64" y1="194.8" x2="860.84" y2="190.64" stroke="#231F20" stroke-width="1" stroke-linecap="round"/>
<ellipse cx="239" cy="311" rx="3.1" ry="1.1" fill="#231F20" transform="rotate(-6 239 311)"/>
<ellipse cx="254.6" cy="313.2" rx="3.1" ry="1.1" fill="#231F20" transform="rotate(-6 254.6 313.2)"/>
<ellipse cx="515.2" cy="249" rx="3.1" ry="1.1" fill="#231F20" transform="rotate(-6 515.2 249)"/>
<ellipse cx="531.2" cy="251.5" rx="3.1" ry="1.1" fill="#231F20" transform="rotate(-6 531.2 251.5)"/>
<ellipse cx="792" cy="188.2" rx="3.1" ry="1.1" fill="#231F20" transform="rotate(-6 792 188.2)"/>
<ellipse cx="808" cy="190.5" rx="3.1" ry="1.1" fill="#231F20" transform="rotate(-6 808 190.5)"/>
<ellipse cx="155" cy="872.7" rx="3.2" ry="0.8" fill="#231F20" transform="rotate(-6 155 872.7)"/>
<ellipse cx="253.5" cy="880" rx="3.2" ry="0.8" fill="#231F20" transform="rotate(-6 253.5 880)"/>
<ellipse cx="528.5" cy="808.8" rx="3.2" ry="0.8" fill="#231F20" transform="rotate(-6 528.5 808.8)"/>
<ellipse cx="801" cy="737.9" rx="3.2" ry="0.8" fill="#231F20" transform="rotate(-6 801 737.9)"/>
<line x1="105" y1="170" x2="205.8" y2="329.8" stroke="#231F20" stroke-width="0.7" stroke-linecap="round"/>
<line x1="418.3" y1="137.5" x2="491.6" y2="225" stroke="#231F20" stroke-width="0.7" stroke-linecap="round"/>
<line x1="415.2" y1="834" x2="524.8" y2="886.8" stroke="#231F20" stroke-width="0.7" stroke-linecap="round"/>
<line x1="568" y1="770.6" x2="747.2" y2="857.2" stroke="#231F20" stroke-width="0.7" stroke-linecap="round"/>
</g>
</svg>
<svg id="labels" width="1000" height="1000" viewBox="0 0 1000 1000">
<g class="lbl">
<text x="30.15" y="123.6" textLength="80.37" lengthAdjust="spacingAndGlyphs">Nylon</text>
<text x="30.8" y="152" textLength="89.64" lengthAdjust="spacingAndGlyphs">Guides</text>
<text x="333.64" y="123.8" textLength="102.35" lengthAdjust="spacingAndGlyphs">Top Rail</text>
<text x="537.5" y="889.1" textLength="99.42" lengthAdjust="spacingAndGlyphs">Bottom</text>
<text x="537.99" y="917.5" textLength="46.81" lengthAdjust="spacingAndGlyphs">Rail</text>
<text x="764.4" y="852.7" textLength="99.52" lengthAdjust="spacingAndGlyphs">Bottom</text>
<text x="764.48" y="880.9" textLength="88.38" lengthAdjust="spacingAndGlyphs">Rollers</text>
</g>
</svg>
</body>
</html>
